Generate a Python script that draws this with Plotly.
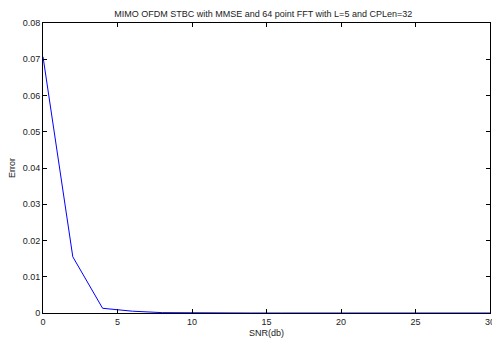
import plotly.graph_objects as go

snr = [0, 2, 4, 6, 8, 10, 12, 14, 16, 18, 20, 22, 24, 26, 28, 30]
err = [0.0707, 0.0155, 0.0013, 0.0005, 0.0001, 0.00002, 0, 0, 0, 0, 0, 0, 0, 0, 0, 0]
x_ticks = [0, 5, 10, 15, 20, 25, 30]
y_ticks = [0, 0.01, 0.02, 0.03, 0.04, 0.05, 0.06, 0.07, 0.08]
y_labels = ["0", "0.01", "0.02", "0.03", "0.04", "0.05", "0.06", "0.07", "0.08"]

fig = go.Figure()
fig.add_trace(go.Scatter(x=snr, y=err, mode="lines",
                         line=dict(color="rgb(0,0,255)", width=1), showlegend=False))

font = dict(family="Liberation Sans, Arial, sans-serif", size=9, color="#222")
fig.update_layout(
    width=492, height=338,
    margin=dict(l=43, r=2, t=23, b=25, autoexpand=False),
    paper_bgcolor="white", plot_bgcolor="white",
    font=font,
    title=dict(text="MIMO OFDM STBC with MMSE and 64 point FFT with L=5 and CPLen=32",
               x=0.535, xanchor="center", y=0.96, yanchor="middle",
               font=dict(family="Liberation Sans, Arial, sans-serif", size=9, color="#222")),
    xaxis=dict(range=[0, 30], tickvals=x_ticks, ticks="inside", ticklen=4,
               showline=True, linecolor="black", linewidth=1, mirror="ticks",
               showgrid=False, zeroline=False, tickcolor="black", automargin=False,
               ticklabeloverflow="allow",
               title=dict(text="SNR(db)", standoff=5, font=font)),
    yaxis=dict(range=[0, 0.08], tickvals=y_ticks, ticktext=y_labels, ticks="inside", ticklen=4,
               showline=True, linecolor="black", linewidth=1, mirror="ticks",
               showgrid=False, zeroline=False, tickcolor="black", automargin=False,
               title=dict(text="Error", standoff=5, font=font)),
)
fig.write_html("out.html", config={"displayModeBar": False},
               post_script="document.body.style.margin='0';document.body.style.overflow='hidden';")
